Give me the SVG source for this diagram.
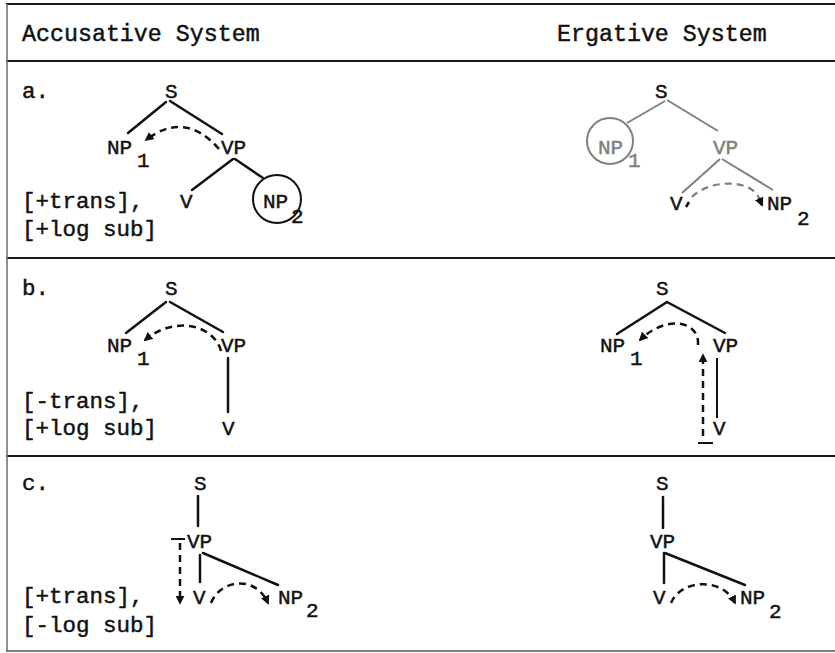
<svg xmlns="http://www.w3.org/2000/svg" width="835" height="653" viewBox="0 0 835 653">
<style>
text{font-family:"Liberation Mono","Courier New",monospace;fill:#111;stroke:#111;stroke-width:0.45}
.h{font-size:23.3px}
.f{font-size:22.5px}
.t{font-size:21px}
.g{fill:#808080;stroke:#808080}
.e{stroke:#111;stroke-width:2.5;fill:none;stroke-linecap:round}
.eg{stroke:#808080;stroke-width:2;fill:none}
.d{stroke:#111;stroke-width:2.5;fill:none;stroke-dasharray:7 5}
.dg{stroke:#808080;stroke-width:2.2;fill:none;stroke-dasharray:7 5}
.rule{stroke:#1a1a1a;stroke-width:2.2}
</style>
<defs>
<marker id="ah" viewBox="0 0 10 10" refX="8" refY="5" markerWidth="9" markerHeight="9" markerUnits="userSpaceOnUse" orient="auto">
<path d="M0,0 L10,5 L0,10 z" fill="#111"/>
</marker>
</defs>
<rect width="835" height="653" fill="#fff"/>
<g id="table">
<line class="rule" x1="6" y1="4" x2="835" y2="4"/>
<line class="rule" x1="6" y1="61" x2="835" y2="61"/>
<line class="rule" x1="6" y1="258" x2="835" y2="258"/>
<line class="rule" x1="6" y1="456" x2="835" y2="456"/>
<line x1="6" y1="651" x2="835" y2="651" stroke="#555" stroke-width="1.6"/>
<line x1="7" y1="4" x2="7" y2="651" stroke="#777" stroke-width="1.6"/>
</g>
<g id="header">
<text class="h" x="22" y="41">Accusative System</text>
<text class="h" x="557" y="41">Ergative System</text>
</g>
<g id="row-labels">
<text class="f" x="22" y="98">a.</text>
<text class="f" x="22" y="208">[+trans],</text>
<text class="f" x="22" y="236">[+log sub]</text>
<text class="f" x="22" y="295">b.</text>
<text class="f" x="22" y="408">[-trans],</text>
<text class="f" x="22" y="435">[+log sub]</text>
<text class="f" x="22" y="490">c.</text>
<text class="f" x="22" y="603">[+trans],</text>
<text class="f" x="22" y="632">[-log sub]</text>
</g>
<g id="aL-S"><text class="t" x="165" y="98">S</text></g>
<g id="aL-NP1"><text class="t" x="107" y="154">NP</text><text class="t" x="137" y="167">1</text></g>
<g id="aL-VP"><text class="t" x="221" y="154">VP</text></g>
<g id="aL-V"><text class="t" x="180" y="208">V</text></g>
<g id="aL-NP2"><circle cx="277" cy="199" r="24" fill="none" stroke="#111" stroke-width="2"/><text class="t" x="263" y="208">NP</text><text class="t" x="291" y="223">2</text></g>
<g id="aR-S"><text class="t" x="655" y="98">S</text></g>
<g id="aR-NP1"><circle cx="610" cy="141" r="23" fill="none" stroke="#808080" stroke-width="2"/><text class="t g" x="598" y="154">NP</text><text class="t g" x="628" y="167">1</text></g>
<g id="aR-VP"><text class="t g" x="713" y="154">VP</text></g>
<g id="aR-V"><text class="t" x="670" y="210">V</text></g>
<g id="aR-NP2"><text class="t" x="767" y="210">NP</text><text class="t" x="797" y="225">2</text></g>
<g id="bL-S"><text class="t" x="165" y="295">S</text></g>
<g id="bL-NP1"><text class="t" x="107" y="352">NP</text><text class="t" x="137" y="365">1</text></g>
<g id="bL-VP"><text class="t" x="221" y="352">VP</text></g>
<g id="bL-V"><text class="t" x="222" y="435">V</text></g>
<g id="bR-S"><text class="t" x="656" y="295">S</text></g>
<g id="bR-NP1"><text class="t" x="600" y="352">NP</text><text class="t" x="630" y="365">1</text></g>
<g id="bR-VP"><text class="t" x="713" y="352">VP</text></g>
<g id="bR-V"><text class="t" x="713" y="435">V</text></g>
<g id="cL-S"><text class="t" x="194" y="490">S</text></g>
<g id="cL-VP"><text class="t" x="187" y="548">VP</text></g>
<g id="cL-V"><text class="t" x="193" y="604">V</text></g>
<g id="cL-NP2"><text class="t" x="278" y="604">NP</text><text class="t" x="306" y="617">2</text></g>
<g id="cR-S"><text class="t" x="656" y="490">S</text></g>
<g id="cR-VP"><text class="t" x="650" y="548">VP</text></g>
<g id="cR-V"><text class="t" x="653" y="604">V</text></g>
<g id="cR-NP2"><text class="t" x="740" y="604">NP</text><text class="t" x="769" y="618">2</text></g>
<g id="connectors">
<line class="e" x1="166" y1="102" x2="128" y2="133"/>
<line class="e" x1="170" y1="101" x2="222" y2="134"/>
<line class="e" x1="233" y1="159" x2="192" y2="190"/>
<line class="e" x1="235" y1="159" x2="263" y2="178"/>
<path class="d" d="M219,149 Q185,110 146,140" marker-end="url(#ah)"/>
<line class="eg" x1="665" y1="101" x2="627" y2="123"/>
<line class="eg" x1="667" y1="100" x2="718" y2="131"/>
<line class="eg" x1="720" y1="159" x2="682" y2="193"/>
<line class="eg" x1="722" y1="159" x2="773" y2="190"/>
<line x1="686" y1="207" x2="689" y2="202" stroke="#111" stroke-width="2.5"/>
<path class="dg" d="M692,197 C708,180 750,178 759,198"/>
<path d="M759,198 L762,205" stroke="#111" stroke-width="3" fill="none" marker-end="url(#ah)"/>
<line class="e" x1="166" y1="302" x2="126" y2="333"/>
<line class="e" x1="170" y1="302" x2="223" y2="332"/>
<line class="e" x1="228" y1="358" x2="228" y2="412"/>
<path class="d" d="M221,351 C214,325 175,315 145,340" marker-end="url(#ah)"/>
<line class="e" x1="667" y1="302" x2="617" y2="334"/>
<line class="e" x1="667" y1="302" x2="725" y2="333"/>
<line x1="717" y1="358" x2="717" y2="418" stroke="#111" stroke-width="2"/>
<line x1="698" y1="443" x2="713" y2="443" stroke="#111" stroke-width="2"/>
<path class="d" d="M703,436 L703,355" marker-end="url(#ah)"/>
<path class="d" d="M698,345 C700,320 665,315 640,340" marker-end="url(#ah)"/>
<line class="e" x1="198" y1="496" x2="198" y2="526"/>
<line class="e" x1="200" y1="555" x2="200" y2="582"/>
<line class="e" x1="203" y1="553" x2="278" y2="585"/>
<line x1="171" y1="539" x2="185" y2="539" stroke="#111" stroke-width="2"/>
<path class="d" d="M180,543 L180,603" marker-end="url(#ah)"/>
<path class="d" d="M211,603 C220,580 255,574 268,603" marker-end="url(#ah)"/>
<line class="e" x1="663" y1="497" x2="663" y2="528"/>
<line class="e" x1="664" y1="553" x2="664" y2="583"/>
<line class="e" x1="665" y1="553" x2="745" y2="585"/>
<path class="d" d="M671,603 C680,580 722,576 735,603" marker-end="url(#ah)"/>
</g>
</svg>
